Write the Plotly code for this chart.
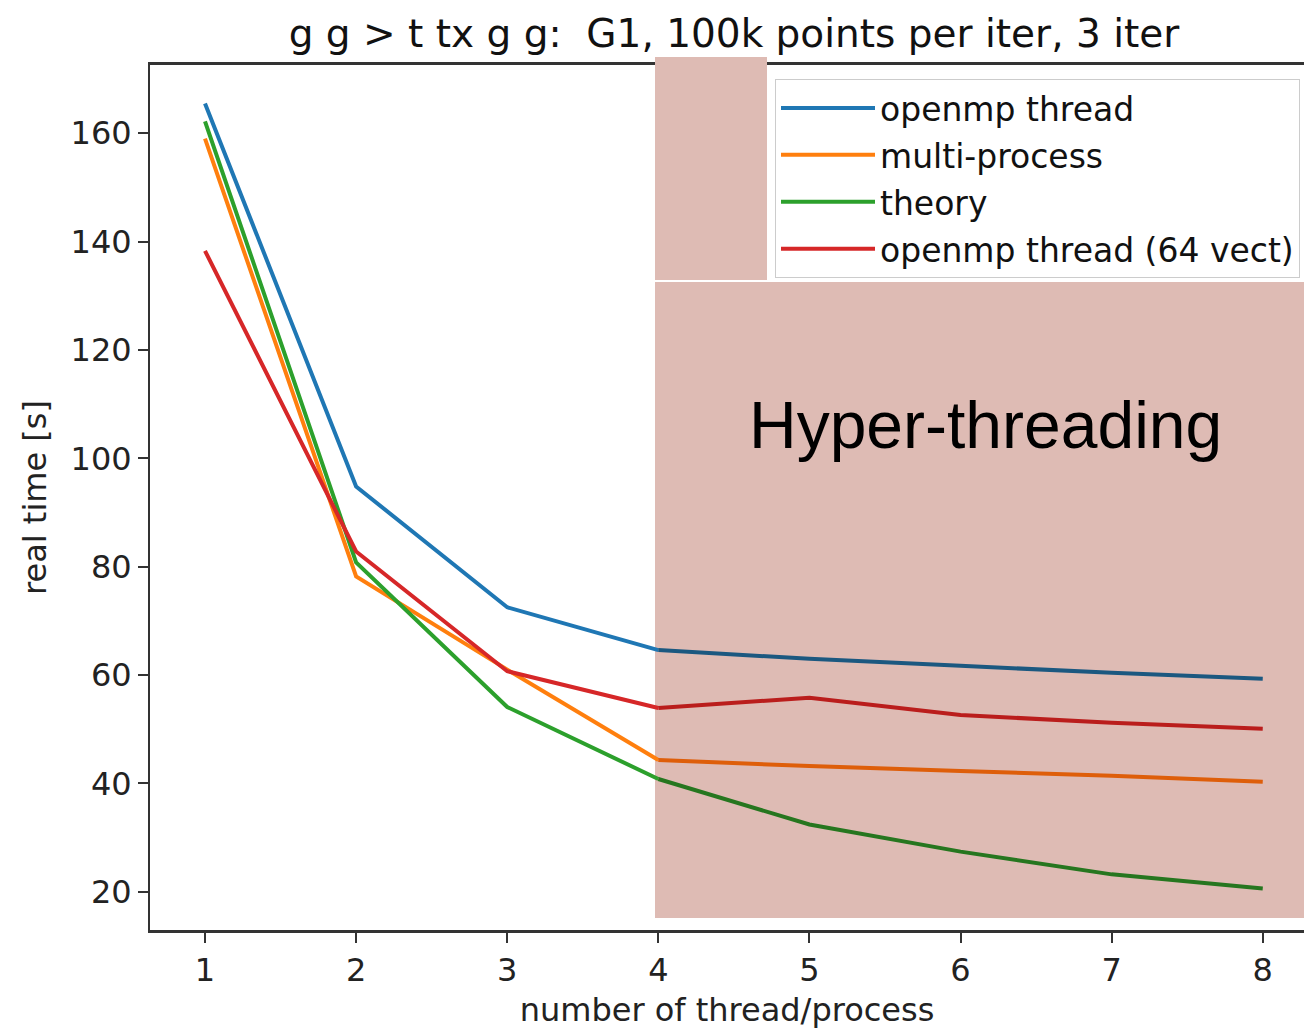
import plotly.graph_objects as go

threads = [1, 2, 3, 4, 5, 6, 7, 8]
openmp = [165.5, 94.8, 72.5, 64.6, 63.0, 61.7, 60.4, 59.3]
multiproc = [159.0, 78.2, 61.0, 44.3, 43.2, 42.3, 41.4, 40.3]
theory = [162.2, 80.8, 54.1, 40.8, 32.4, 27.4, 23.2, 20.6]
openmp64 = [138.3, 82.8, 60.7, 53.9, 55.8, 52.6, 51.2, 50.1]

names = ["openmp thread", "multi-process", "theory", "openmp thread (64 vect)"]
colors = ["#1f77b4", "#ff7f0e", "#2ca02c", "#d62728"]
shaded_colors = ["#1b5880", "#de5e0a", "#26761f", "#ba1d1c"]
series = [openmp, multiproc, theory, openmp64]

title_text = "g g > t tx g g:\u00a0 G1, 100k points per iter, 3 iter"
x_title = "number of thread/process"
y_title = "real time [s]"
ht_label = "Hyper-threading"

fig = go.Figure()
split = 3  # index of x=4, where the hyper-threading region starts
for name, c, sc, ys in zip(names, colors, shaded_colors, series):
    fig.add_trace(go.Scatter(x=threads[:split + 1], y=ys[:split + 1], mode="lines",
                             name=name, line=dict(color=c, width=4),
                             legendgroup=name))
    fig.add_trace(go.Scatter(x=threads[split:], y=ys[split:], mode="lines",
                             name=name, line=dict(color=sc, width=4),
                             legendgroup=name, showlegend=False))

W, H = 1304, 1029
L, R, T, B = 150, 0, 65, 99
pw, ph = W - L - R, H - T - B

def px_x(p):
    return (p - L) / pw

def px_y(p):
    return (H - B - p) / ph

pink = "#debbb4"
# main shaded region (below traces)
fig.add_shape(type="rect", xref="paper", yref="paper", layer="below",
              x0=px_x(655), x1=px_x(1304), y0=px_y(918), y1=px_y(282),
              fillcolor=pink, line=dict(width=0))
# small strip next to the legend (above, covers the top spine)
fig.add_shape(type="rect", xref="paper", yref="paper", layer="above",
              x0=px_x(655), x1=px_x(767), y0=px_y(280), y1=px_y(57),
              fillcolor=pink, line=dict(width=0))

fig.add_annotation(text=ht_label, xref="paper", yref="paper",
                   x=px_x(985), y=px_y(425), xanchor="center", yanchor="middle",
                   showarrow=False,
                   font=dict(family="Liberation Sans, Arial", size=66, color="black"))

font_main = "DejaVu Sans"
fig.update_layout(
    width=W, height=H,
    margin=dict(l=L, r=R, t=T, b=B, autoexpand=False),
    paper_bgcolor="white",
    plot_bgcolor="rgba(0,0,0,0)",
    font=dict(family=font_main, size=32, color="#222222"),
    title=dict(text=title_text, x=(734 - 0) / W, xanchor="center",
               y=1 - 33 / H, yanchor="middle",
               font=dict(family=font_main, size=39, color="#111111")),
    showlegend=True,
    legend=dict(x=px_x(1300), y=px_y(79), xanchor="right", yanchor="top",
                bgcolor="white", bordercolor="#cccccc", borderwidth=1,
                font=dict(family=font_main, size=33, color="#111111"),
                tracegroupgap=1, itemwidth=94),
    xaxis=dict(range=[0.636, 8.273], tickvals=threads, ticks="outside",
               ticklen=10, tickwidth=2, tickcolor="#333333",
               showline=True, linewidth=3, linecolor="#333333", mirror=True,
               showgrid=False, zeroline=False,
               title=dict(text=x_title, standoff=14,
                          font=dict(family=font_main, size=32, color="#222222")),
               automargin=False),
    yaxis=dict(range=[12.93, 172.6], tickvals=[20, 40, 60, 80, 100, 120, 140, 160],
               ticks="outside", ticklen=10, tickwidth=2, tickcolor="#333333",
               showline=True, linewidth=2, linecolor="#333333",
               showgrid=False, zeroline=False,
               title=dict(text=y_title, standoff=14,
                          font=dict(family=font_main, size=32, color="#222222")),
               automargin=False),
)

fig.write_html("out.html")
